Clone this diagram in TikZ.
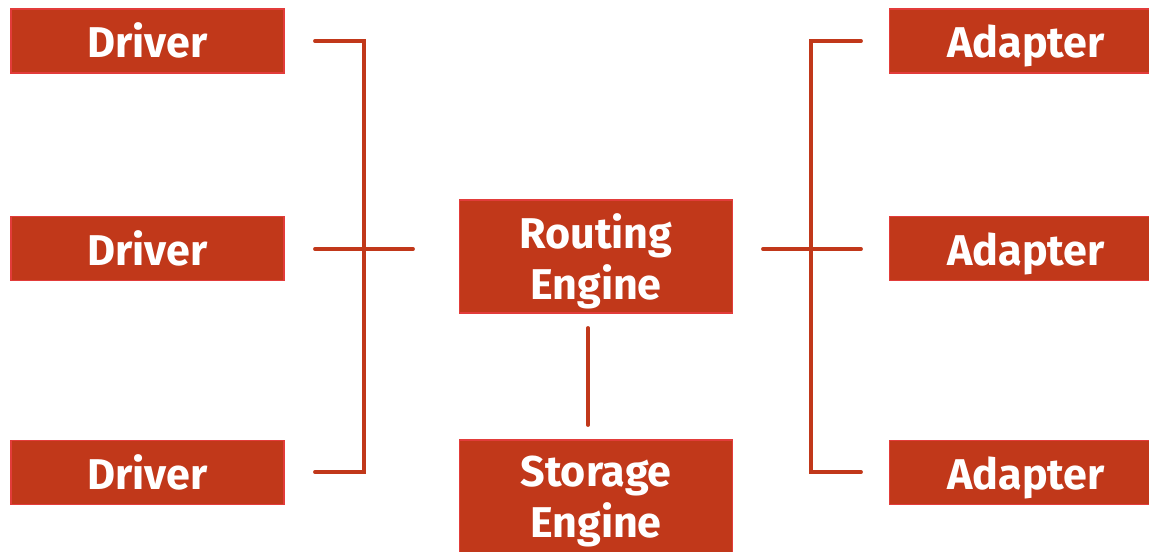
\documentclass[tikz,border=0pt]{standalone}
\usepackage{fontspec}
\setmainfont{Fira Sans}
\definecolor{rust}{RGB}{193,56,26}
\definecolor{rustedge}{RGB}{226,60,58}

\tikzset{
    block/.style={shape=rectangle,fill=rust,draw=rustedge,line width=0.8pt,
        text=white,font=\bfseries\fontsize{24.5}{29}\selectfont,
        minimum width=5.46cm,inner sep=0pt},
    oneline/.style={block,minimum height=1.28cm,text height=21pt,text depth=1.8pt},
    twoline/.style={block,align=center,minimum height=2.26cm,text depth=-2pt},
    link/.style={draw=rust,line width=2.2pt,line cap=round,line join=miter}
}

\begin{document}
\begin{tikzpicture}[x=0.02cm,y=-0.02cm]
        \useasboundingbox (0,0) rectangle (1149,551);
        % left column
        \node[oneline](d1) at (147.5,41)  {Driver};
        \node[oneline](d2) at (147.5,248.5) {Driver};
        \node[oneline](d3) at (147.5,472.5) {Driver};
        % right column
        \node[oneline](a1) at (1026,41)  {Adapter};
        \node[oneline](a2) at (1026,248.5) {Adapter};
        \node[oneline](a3) at (1026,472.5) {Adapter};
        % engines
        \node[twoline](re) at (596,256.5) {Routing\\Engine};
        \node[twoline](se) at (596,496.5) {Storage\\Engine};
        % line ends
        \coordinate (l1) at (315,41);
        \coordinate (l2) at (315,249);
        \coordinate (l3) at (315,472);
        \coordinate (lc) at (413,249);
        \coordinate (r1) at (861,41);
        \coordinate (r2) at (861,249);
        \coordinate (r3) at (861,472);
        \coordinate (rc) at (763,249);
        \coordinate (vt) at (588,328);
        \coordinate (vb) at (588,425);
        % left bus
        \draw[link] (l1) -| (364,472) -- (l3);
        \draw[link] (l2) -- (lc);
        % right bus
        \draw[link] (r1) -| (811,472) -- (r3);
        \draw[link] (rc) -- (r2);
        % routing to storage
        \draw[link] (vt) -- (vb);
    \end{tikzpicture}
\end{document}
